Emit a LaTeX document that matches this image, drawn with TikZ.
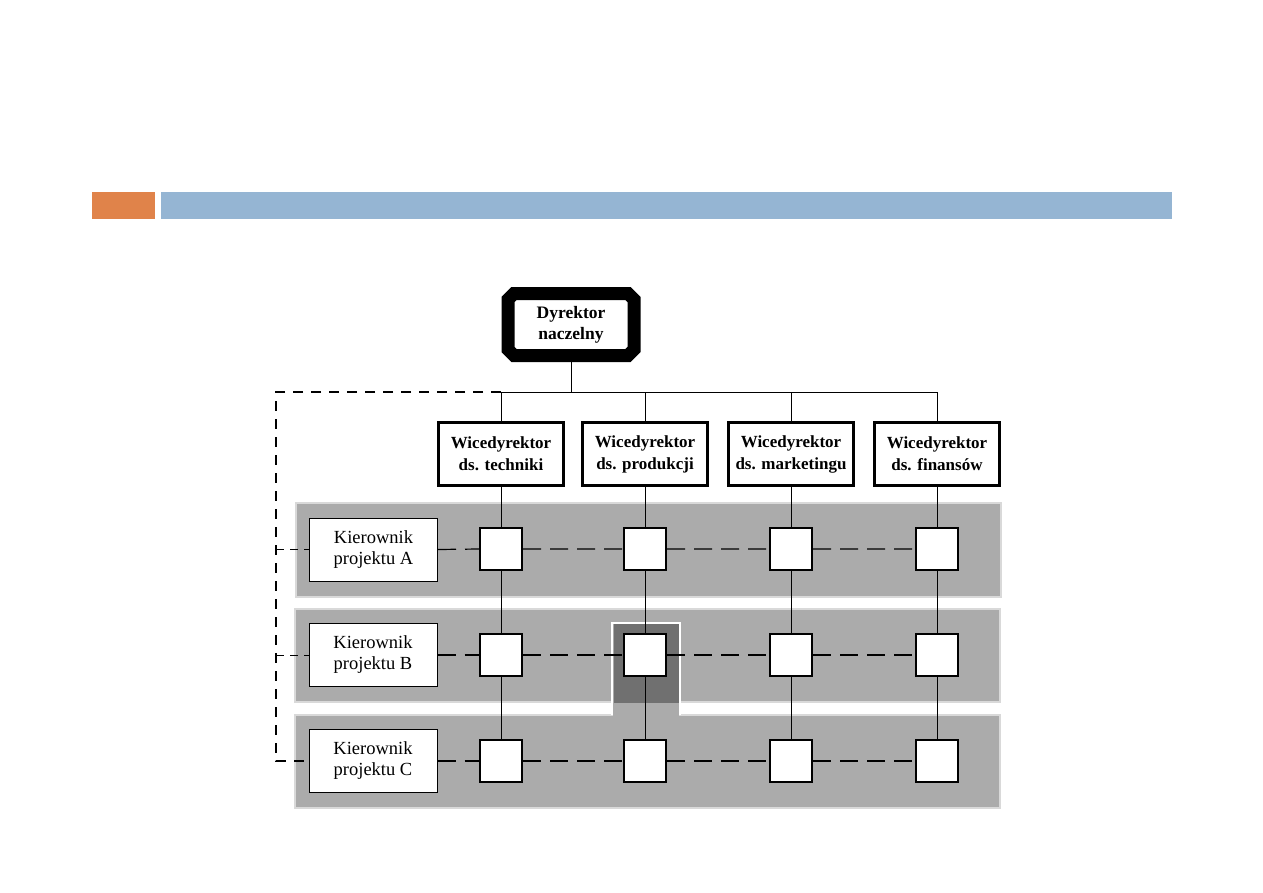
\documentclass[tikz,border=0pt]{standalone}
\usepackage{fontspec}
\setmainfont{Liberation Serif}
\usetikzlibrary{shapes.misc}
\definecolor{barorange}{HTML}{E0834A}
\definecolor{barblue}{HTML}{95B5D3}
\definecolor{bandgray}{HTML}{ABABAB}
\definecolor{darkgray2}{HTML}{707070}
\definecolor{bandedge}{HTML}{D9D9D9}
\begin{document}
\begin{tikzpicture}[x=1pt,y=-1pt,
  dirbox/.style={chamfered rectangle, chamfered rectangle xsep=3pt, chamfered rectangle ysep=3pt, draw=black, line width=13pt, fill=white,
    minimum width=126pt, minimum height=62pt, inner sep=0pt, align=center,
    font=\fontsize{17.5}{21}\selectfont\bfseries},
  vpbox/.style={rectangle, draw=black, line width=3pt, fill=white, minimum width=125pt, minimum height=63pt,
    inner sep=0pt, align=center, font=\fontsize{17}{22}\selectfont\bfseries},
  kbox/.style={rectangle, draw=black, line width=1pt, fill=white, minimum width=128pt, minimum height=63pt,
    inner sep=0pt, align=center, font=\fontsize{18.5}{21}\selectfont},
  sq/.style={rectangle, draw=black, line width=2pt, fill=white, minimum size=42pt, inner sep=0pt},
  band/.style={fill=bandgray, draw=bandedge, line width=1.2pt},
  solidline/.style={draw=black, line width=1pt},
  thindash/.style={draw=black, line width=1.2pt, dash pattern=on 18pt off 9pt},
  thickdash/.style={draw=black, line width=2.4pt, dash pattern=on 18pt off 9pt},
  leftdash/.style={draw=black, line width=1.8pt, dash pattern=on 10pt off 8pt},
  feederdash/.style={draw=black, line width=1pt, dash pattern=on 8pt off 6pt}
]
\useasboundingbox (0,0) rectangle (1263,893);
\fill[white] (0,0) rectangle (1263,893);
% header bars
\fill[barorange] (92,192) rectangle (155,219);
\fill[barblue] (161,192) rectangle (1172,219);
% bands
\path[band] (296,503) rectangle (1001,597);
\path[band] (295,609) rectangle (1000,702);
\path[band] (295,715) rectangle (1000,808);
% highlight column
\path[fill=bandgray, draw=white, line width=1.5pt] (612,715) -- (612,623) -- (680,623) -- (680,715);
\fill[bandgray] (612.8,700) rectangle (679.2,716);
\fill[darkgray2] (613.5,624) rectangle (678.5,703);
% nodes
\node[dirbox] (dir) at (571,324.5) {Dyrektor\\naczelny};
\node[vpbox] (vt) at (501,454) {Wicedyrektor\\ds. techniki};
\node[vpbox] (vp) at (645,454) {Wicedyrektor\\ds. produkcji};
\node[vpbox] (vm) at (791,454) {Wicedyrektor\\ds. marketingu};
\node[vpbox] (vf) at (937,454) {Wicedyrektor\\ds. finansów};
\node[kbox] (kA) at (373.5,549.5) {Kierownik\\projektu A};
\node[kbox] (kB) at (373,655) {Kierownik\\projektu B};
\node[kbox] (kC) at (373,761) {Kierownik\\projektu C};
\foreach \c/\x in {1/501,2/645,3/791,4/937}{
  \node[sq] (sA\c) at (\x,549) {};
  \node[sq] (sB\c) at (\x,655) {};
  \node[sq] (sC\c) at (\x,761) {};
}
\coordinate (bus) at (571,392);
\coordinate (lft) at (276,392);
% solid hierarchy lines
\draw[solidline] (dir.south) -- (dir.south |- bus);
\draw[solidline] (vt.north) -- (vt.north |- bus) -- (vf.north |- bus) -- (vf.north);
\draw[solidline] (vp.north) -- (vp.north |- bus);
\draw[solidline] (vm.north) -- (vm.north |- bus);
\draw[solidline] (vt.south) -- (sA1.north) (sA1.south) -- (sB1.north) (sB1.south) -- (sC1.north);
\draw[solidline] (vp.south) -- (sA2.north) (sA2.south) -- (sB2.north) (sB2.south) -- (sC2.north);
\draw[solidline] (vm.south) -- (sA3.north) (sA3.south) -- (sB3.north) (sB3.south) -- (sC3.north);
\draw[solidline] (vf.south) -- (sA4.north) (sA4.south) -- (sB4.north) (sB4.south) -- (sC4.north);
% left dashed
\draw[leftdash] (vt.north |- bus) -- (lft) -- (lft |- kC.west) -- (kC.west);
\draw[feederdash] (lft |- kA.west) -- (kA.west);
\draw[feederdash] (lft |- kB.west) -- (kB.west);
% row dashed
\draw[thindash] (kA.east) -- (sA1.west) (sA1.east) -- (sA2.west) (sA2.east) -- (sA3.west) (sA3.east) -- (sA4.west);
\draw[thickdash] (kB.east) -- (sB1.west) (sB1.east) -- (sB2.west) (sB2.east) -- (sB3.west) (sB3.east) -- (sB4.west);
\draw[thickdash] (kC.east) -- (sC1.west) (sC1.east) -- (sC2.west) (sC2.east) -- (sC3.west) (sC3.east) -- (sC4.west);
\end{tikzpicture}
\end{document}
